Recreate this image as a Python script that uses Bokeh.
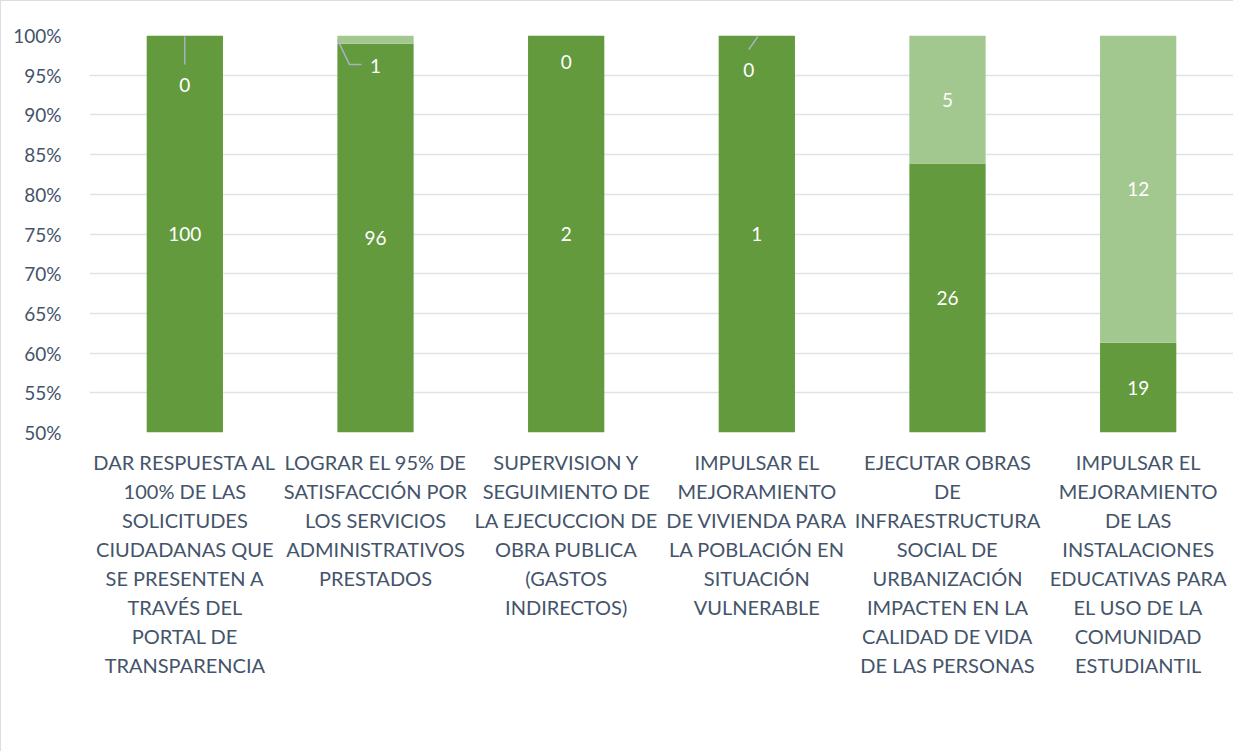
import numpy as np
from bokeh.plotting import figure
from bokeh.models import (Range1d, FixedTicker, NumeralTickFormatter, Legend, LegendItem,
                          ColumnDataSource, LinearAxis)
from bokeh.embed import file_html
from bokeh.resources import INLINE
from bokeh.core.properties import value

# ---------------- data ----------------
categories = [
    "DAR RESPUESTA AL\n100% DE LAS\nSOLICITUDES\nCIUDADANAS QUE\nSE PRESENTEN A\nTRAVÉS DEL\nPORTAL DE\nTRANSPARENCIA",
    "LOGRAR EL 95% DE\nSATISFACCIÓN POR\nLOS SERVICIOS\nADMINISTRATIVOS\nPRESTADOS",
    "SUPERVISION Y\nSEGUIMIENTO DE\nLA EJECUCCION DE\nOBRA PUBLICA\n(GASTOS\nINDIRECTOS)",
    "IMPULSAR EL\nMEJORAMIENTO\nDE VIVIENDA PARA\nLA POBLACIÓN EN\nSITUACIÓN\nVULNERABLE",
    "EJECUTAR OBRAS\nDE\nINFRAESTRUCTURA\nSOCIAL DE\nURBANIZACIÓN\nIMPACTEN EN LA\nCALIDAD DE VIDA\nDE LAS PERSONAS",
    "IMPULSAR EL\nMEJORAMIENTO\nDE LAS\nINSTALACIONES\nEDUCATIVAS PARA\nEL USO DE LA\nCOMUNIDAD\nESTUDIANTIL",
]
realizada = [100, 96, 2, 1, 26, 19]
inconclusas = [0, 1, 0, 0, 5, 12]
series_names = ["Realizada", "Inconclusas"]
y_ticks = [0.50, 0.55, 0.60, 0.65, 0.70, 0.75, 0.80, 0.85, 0.90, 0.95, 1.00]
y_start, y_end = 0.50, 1.00

# ---------------- styles ----------------
FONT = "Lato"
TEXT_COLOR = "#44546a"
GRID_COLOR = "#dfe3e8"
C_REAL = "#639a3e"
C_INC = "#a3c88f"
LEADER_COLOR = "#a9b2c0"
BAR_WIDTH = 0.40

FRAME_W, FRAME_H = 1144, 397
B_LEFT, B_RIGHT, B_TOP, B_BOTTOM = 88, 0, 34, 300
FIRST_LINE_STANDOFF = 17
LINE_STANDOFF = 2
LEGEND_GAP = 29
ppx = FRAME_W / len(categories)           # pixels per category unit
ppy = FRAME_H / (y_end - y_start)         # pixels per y unit

# manual label nudges (pixels, screen direction: +dy = down) for the inconclusas labels
inc_dx = [0, 0, 0, -8, 0, 0]
inc_dy = [49, 26, 26, 34, 0, 0]
# leader lines (pixel offsets from the segment anchor, +dy = down)
leaders = {0: [(0, 1), (0, 29)], 1: [(-38, 0), (-26, 25), (-14, 25)], 3: [(1, 1), (-8, 14)]}

# ---------------- computation ----------------
x = np.arange(len(categories), dtype=float)
real = np.array(realizada, dtype=float)
inc = np.array(inconclusas, dtype=float)
tot = real + inc
r_top = real / tot
i_top = (real + inc) / tot

src = ColumnDataSource(dict(x=x, r_top=r_top, i_top=i_top,
                            r_bot=np.zeros_like(x), i_bot=r_top))

p = figure(frame_width=FRAME_W, frame_height=FRAME_H, output_backend="svg", toolbar_location=None,
           x_range=Range1d(-0.5, len(categories) - 0.5), y_range=Range1d(y_start, y_end),
           x_axis_location=None,
           min_border_left=B_LEFT, min_border_right=B_RIGHT,
           min_border_top=B_TOP, min_border_bottom=B_BOTTOM,
           outline_line_color=None,
           styles={"border-left": "1px solid #dadee4", "border-top": "1px solid #dadee4"})

r1 = p.vbar(x="x", top="r_top", bottom="r_bot", width=BAR_WIDTH, source=src,
            fill_color=C_REAL, line_color=None)
r2 = p.vbar(x="x", top="i_top", bottom="i_bot", width=BAR_WIDTH, source=src,
            fill_color=C_INC, line_color=None)

# data labels: middle of the visible part of each segment
r_lab_y = (np.maximum(np.zeros_like(x), y_start) + np.minimum(r_top, y_end)) / 2
i_lab_y = (np.maximum(r_top, y_start) + np.minimum(i_top, y_end)) / 2
p.text(x=x, y=r_lab_y, text=[str(v) for v in realizada], text_color="white",
       text_font=value(FONT), text_font_size="19px", text_align="center",
       text_baseline="middle")
p.text(x=x, y=i_lab_y, text=[str(v) for v in inconclusas], text_color="white",
       text_font=value(FONT), text_font_size="19px", text_align="center",
       text_baseline="middle", x_offset=inc_dx, y_offset=inc_dy)

# leader lines
xs, ys = [], []
for i, pts in leaders.items():
    xs.append([x[i] + dx / ppx for dx, dy in pts])
    ys.append([i_lab_y[i] - dy / ppy for dx, dy in pts])
p.multi_line(xs=xs, ys=ys, line_color=LEADER_COLOR, line_width=1.5)

# y axis
p.yaxis.ticker = FixedTicker(ticks=y_ticks)
p.yaxis.formatter = NumeralTickFormatter(format="0%")
p.yaxis.axis_line_color = None
p.yaxis.major_tick_line_color = None
p.yaxis.minor_tick_line_color = None
p.yaxis.major_label_text_font = FONT
p.yaxis.major_label_text_font_size = "19px"
p.yaxis.major_label_text_color = TEXT_COLOR
p.yaxis.major_label_standoff = 22

# category labels: one stacked axis per text line (centred under each bar)
lines = [c.split("\n") for c in categories]
n_lines = max(len(l) for l in lines)
for k in range(n_lines):
    overrides = {int(i): (lines[i][k] if k < len(lines[i]) else "") for i in range(len(lines))}
    ax = LinearAxis(ticker=FixedTicker(ticks=list(x)), major_label_overrides=overrides,
                    axis_line_color=None, major_tick_line_color=None,
                    minor_tick_line_color=None, major_tick_in=0, major_tick_out=0,
                    minor_tick_in=0, minor_tick_out=0,
                    major_label_text_font=FONT, major_label_text_font_size="20px",
                    major_label_text_color=TEXT_COLOR,
                    major_label_standoff=FIRST_LINE_STANDOFF if k == 0 else LINE_STANDOFF)
    p.add_layout(ax, "below")

# invisible spacer between the category labels and the legend
spacer = LinearAxis(ticker=FixedTicker(ticks=[]), axis_line_color=None,
                    major_tick_line_color=None, minor_tick_line_color=None,
                    major_tick_in=0, major_tick_out=LEGEND_GAP, minor_tick_in=0,
                    minor_tick_out=0, major_label_standoff=0,
                    major_label_text_font_size="1px")
p.add_layout(spacer, "below")

p.xgrid.grid_line_color = None
p.ygrid.grid_line_color = GRID_COLOR
p.ygrid.grid_line_width = 1.5

legend = Legend(items=[LegendItem(label=series_names[0], renderers=[r1]),
                       LegendItem(label=series_names[1], renderers=[r2])],
                orientation="horizontal", location="top_center",
                label_text_font=FONT, label_text_font_size="19px",
                label_text_color=TEXT_COLOR, glyph_width=14, glyph_height=14,
                label_height=20, spacing=22, label_standoff=6, border_line_color=None,
                background_fill_alpha=0, margin=0, padding=0)
p.add_layout(legend, "below")

open("out.html", "w").write(file_html(p, INLINE))
